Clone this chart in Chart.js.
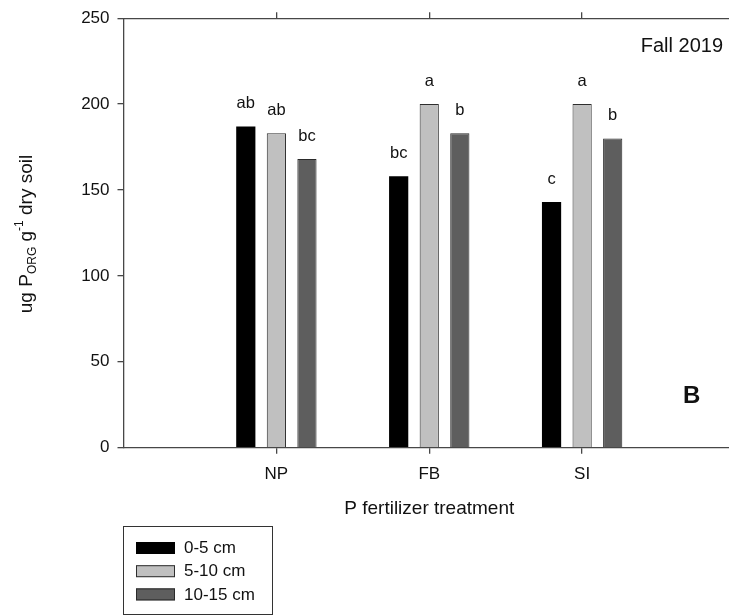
<!DOCTYPE html>
<html>
<head>
<meta charset="utf-8">
<script src="https://cdn.jsdelivr.net/npm/chart.js@4.4.1/dist/chart.umd.min.js"></script>
<style>
  html, body { margin: 0; padding: 0; background: #fff; overflow: hidden; }
  #wrap { width: 729px; height: 616px; overflow: hidden; position: relative; }
  #box { width: 745px; height: 616px; position: absolute; left: 0; top: 0; }
</style>
</head>
<body>
<div id="wrap"><div id="box"><canvas id="c"></canvas></div></div>
<script>
// ---- data ----
const categories = ['', 'NP', 'FB', 'SI', ''];
const seriesLabels = ['0-5 cm', '5-10 cm', '10-15 cm'];
const depth0to5 = [null, 187, 158, 143, null];
const depth5to10 = [null, 183, 200, 200, null];
const depth10to15 = [null, 168, 183, 180, null];
const letters0to5 = ['', 'ab', 'bc', 'c', ''];
const letters5to10 = ['', 'ab', 'a', 'a', ''];
const letters10to15 = ['', 'bc', 'b', 'b', ''];
const yTickValues = [0, 50, 100, 150, 200, 250];
const panelTitle = 'Fall 2019';
const panelLetter = 'B';

const FONT = "'Liberation Sans', Arial, Helvetica, sans-serif";
Chart.defaults.font.family = FONT;
Chart.defaults.color = '#111';

const AXIS = '#474747';
const letterSets = [letters0to5, letters5to10, letters10to15];

const annotate = {
  id: 'annotate',
  afterDraw(chart) {
    const ctx = chart.ctx;
    ctx.save();
    // significance letters
    ctx.fillStyle = '#111';
    ctx.font = '16.5px ' + FONT;
    ctx.textAlign = 'center';
    ctx.textBaseline = 'alphabetic';
    chart.data.datasets.forEach((ds, i) => {
      const meta = chart.getDatasetMeta(i);
      meta.data.forEach((el, j) => {
        const t = letterSets[i][j];
        if (t && ds.data[j] != null) ctx.fillText(t, el.x, el.y - 18);
      });
    });
    // panel title
    ctx.font = '20px ' + FONT;
    ctx.textAlign = 'right';
    ctx.fillText(panelTitle, 723, 52);
    // panel letter
    ctx.font = 'bold 24px ' + FONT;
    ctx.textAlign = 'left';
    ctx.fillText(panelLetter, 683, 403);

    // y axis title with sub/superscript
    const parts = [
      { t: 'ug P', f: '19px ', dy: 0 },
      { t: 'ORG', f: '12px ', dy: 4 },
      { t: ' g', f: '19px ', dy: 0 },
      { t: '-1', f: '12px ', dy: -9 },
      { t: ' dry soil', f: '19px ', dy: 0 }
    ];
    let total = 0;
    parts.forEach(p => { ctx.font = p.f + FONT; p.w = ctx.measureText(p.t).width; total += p.w; });
    ctx.translate(32, 234);
    ctx.rotate(-Math.PI / 2);
    let x = -total / 2;
    parts.forEach(p => {
      ctx.font = p.f + FONT;
      ctx.fillText(p.t, x, p.dy);
      x += p.w;
    });
    ctx.restore();

    // legend
    ctx.save();
    ctx.strokeStyle = '#333';
    ctx.lineWidth = 1;
    ctx.strokeRect(123.5, 526.5, 149, 88);
    ctx.font = '17px ' + FONT;
    ctx.textAlign = 'left';
    ctx.textBaseline = 'middle';
    chart.data.datasets.forEach((ds, i) => {
      const top = 542 + i * 23.2;
      ctx.fillStyle = ds.backgroundColor;
      ctx.fillRect(136, top, 39, 12);
      if (ds.borderWidth) {
        ctx.strokeStyle = ds.borderColor;
        ctx.lineWidth = 1;
        ctx.strokeRect(136.5, top + 0.5, 38, 11);
      }
      ctx.fillStyle = '#111';
      ctx.fillText(ds.label, 184, top + 6.5);
    });
    ctx.restore();
  }
};

const tickColor = (c) => (categories[c.index] ? AXIS : 'rgba(0,0,0,0)');

new Chart(document.getElementById('c'), {
  type: 'bar',
  data: {
    labels: categories,
    datasets: [
      { label: seriesLabels[0], data: depth0to5, backgroundColor: '#000000', borderColor: '#000000', borderWidth: 0 },
      { label: seriesLabels[1], data: depth5to10, backgroundColor: '#c0c0c0', borderColor: '#2e2e2e', borderWidth: 1 },
      { label: seriesLabels[2], data: depth10to15, backgroundColor: '#5e5e5e', borderColor: '#2a2a2a', borderWidth: 1 }
    ]
  },
  options: {
    responsive: true,
    maintainAspectRatio: false,
    devicePixelRatio: 1,
    animation: false,
    categoryPercentage: 0.6,
    barPercentage: 0.628,
    layout: { padding: { left: 0, right: 6.3, top: 0, bottom: 0 } },
    plugins: { legend: { display: false }, tooltip: { enabled: false } },
    scales: {
      x: {
        type: 'category',
        position: 'bottom',
        offset: false,
        grid: { offset: false, drawOnChartArea: false, drawTicks: true, tickLength: 6, color: tickColor, lineWidth: 1.3 },
        border: { display: true, color: AXIS, width: 1.3 },
        ticks: { font: { size: 17 }, color: '#111', padding: 10, maxRotation: 0, autoSkip: false },
        title: { display: true, text: 'P fertilizer treatment', font: { size: 19 }, color: '#111', padding: { top: 0, bottom: 95.4 } },
        afterFit(s) { s.height = 616 - 447.7; }
      },
      x2: {
        type: 'category',
        position: 'top',
        labels: categories,
        offset: false,
        grid: { offset: false, drawOnChartArea: false, drawTicks: true, tickLength: 6, color: tickColor, lineWidth: 1.3 },
        border: { display: true, color: AXIS, width: 1.3 },
        ticks: { color: 'rgba(0,0,0,0)', autoSkip: false, maxRotation: 0 },
        afterFit(s) { s.height = 15.5; }
      },
      y: {
        type: 'linear',
        min: yTickValues[0],
        max: yTickValues[yTickValues.length - 1],
        afterBuildTicks(s) { s.ticks = yTickValues.map(v => ({ value: v })); },
        grid: { drawOnChartArea: false, drawTicks: true, tickLength: 6, color: AXIS, lineWidth: 1.3 },
        border: { display: true, color: AXIS, width: 1.3 },
        ticks: { font: { size: 17 }, color: '#111', padding: 8 },
        title: { display: false },
        afterFit(s) { s.width = 123.5; }
      }
    }
  },
  plugins: [annotate]
});
</script>
</body>
</html>
